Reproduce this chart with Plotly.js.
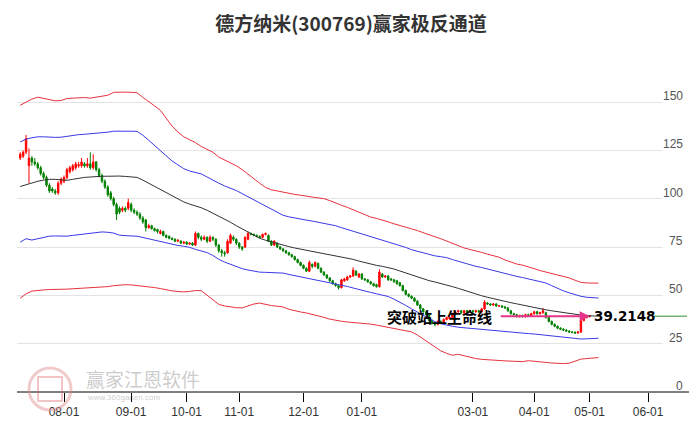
<!DOCTYPE html>
<html>
<head>
<meta charset="utf-8">
<script src="https://cdn.plot.ly/plotly-3.0.1.min.js"></script>
<style>html,body{margin:0;padding:0;background:#fff;}#chart{width:689px;height:427px;}</style>
</head>
<body>
<div id="chart"></div>
<script>
// ---- DATA ----
const titleText = '德方纳米(300769)赢家极反通道';
const tickIdx = [15, 38, 57, 75, 97, 117, 155, 176, 195, 215];
const tickText = ['08-01','09-01','10-01','11-01','12-01','01-01','03-01','04-01','05-01','06-01'];
const yTicks = [0, 25, 50, 75, 100, 125, 150];

const open = [
121,122,124,117,121,119,118,116,113,111,
107,105,104,103,108,109,111,114,115,116,
117,117,118,117,118,116,119,115,112,109,
106,103,100,97,95,94,95,95,97,94,
93,92,90,89,85,86,84.5,84,82,83,
81,80.5,79.5,79,78,78,77,77.5,76.5,77,
76,82,80,79,80,78,80,79,76,73,
72,72,77,80,79,77,75,75,79,82,
81.5,81,80.5,80,81.5,81,78,76,77,75,
74,73,72,71,70,68.5,67,65.5,64,62.5,
66,65,66.5,64,62,60.5,59,57.5,56,55,
54,57.5,58,59.5,60,62.5,59.5,61,58.5,58,
57,56,55.5,54.5,61,59.5,60,58.5,58,57.5,
56.5,55,52.5,50.5,49.5,48.5,47,45,43,41.5,
39.5,37,35.5,35,36.5,36,37.5,38,38.5,40.5,
41.5,42,41,42,41.5,42,41.5,42,41.5,43,
46,45.5,45,45.5,44.5,44.5,44,43.5,42,40.5,
40,39,39.5,39,40,39.5,40.5,41.5,40.5,41,
41,38.5,36.5,35,34,33,32.5,32,31.5,31,
31,30.5,31,37,38.5,39];
const close = [
123,124,131,121,119,118,116,113,111,107,
104,104,103,108,110,111,115,116,117,118,
117.5,119,117,118,116,119,115,112,109,106,
102,100,97,92,93,95,94,98,94,93,
92,90,88,85,86,84.5,83.5,83,83,81,
80,79.5,79,78,78.5,77,77.5,76.5,77,76,
82,80,79,80,78,80,79,76,73,72,
71.5,78,81,79,77,75,74,80,82,81.5,
81,80.5,80,81.5,82,78,76,78,75,74,
73,72,71,70,68.5,67,65.5,64,62.5,67,
65,67,64,62,60.5,59,57.5,56,55,54,
58,58.5,59.5,60,63,60.5,61,58.5,58,57,
56,55,54.5,62,59.5,60,58,58,57,56,
55,52.5,50.5,49.5,48.5,47,45,43,41.5,40,
37,35.5,35,36.5,36,37.5,38.5,38.5,40.5,41.5,
42,41,42,41.5,42,41.5,42,41.5,43,46.5,
45.5,45,45.5,44.5,44.6,44,43.5,42,40.5,40,
39,39.5,39,40,39.5,40.5,41.5,40.5,41,42,
38.5,36.5,35,34,33,32.5,32,31.5,31,30.8,
30.5,31,37,38.5,39.2,39.2148];
const high = [
124,125,133,126,122,121,119,117,114,112,
108,106,105,109,111,112,116,117,118,119,
119,121,119,121,124,123,119.5,116,113,110,
107,104,101,98,96,96,96,100,98,95,
94,93,91,89.5,87,86.5,85,84.5,84,83.5,
81.5,81,80,79.5,79,78.5,78,78,77.5,77.5,
83,82.5,81,81,80.5,81,80.5,79.5,76.5,74,
73,79,82,81,79.5,77.5,75.5,80.5,83,82.5,
82,81.5,81,82,82.5,81.5,78.5,78.5,77.5,75.5,
74.5,73.5,72.5,71.5,70.5,69,67.5,66,64.5,68,
66.5,67.5,67,64.5,62.5,61,59.5,58,56.5,55.5,
58.5,59,60,60.5,64.5,63,61.5,61.5,59,58.5,
57.5,56.5,56,63.5,61.5,60.5,60.5,59,58.5,58,
57,55.5,53,51,50,49,47.5,45.5,43.5,42,
40,37.5,36,37,37,38,39,39,41,42,
42.5,42.5,42.5,42.5,42.5,42.5,42.5,42.5,43.5,47.5,
46.5,46,46,46,45,45,44.5,44,42.5,41,
40.5,40,40,40.5,40.5,41,42,42,41.5,43.5,
41.5,39,37,35.5,34.5,33.5,33,32.5,32,31.5,
31.3,31.5,37.5,39.5,40,39.8];
const low = [
120,121,123,108,117,117,115,112,110,106,
103,103,102,102,107,108,110,113,114,115,
116,116,116,116,115,115,114,111,108,105,
101,99,96,89,92,93,93,94,93,92,
91,89,87,83,84.5,84,83,82,81.5,80.5,
79.5,79,78.5,77.5,77.5,76.5,76.5,76,76,75.5,
75.5,79,78,78.5,77,77.5,78,75,72,70,
70,71.5,76.5,78,76,74,73,74.5,78.5,81,
80.5,80,79.5,79.5,81,77.5,75.5,75.5,74.5,73.5,
72.5,71.5,70.5,69.5,68,66.5,65,63.5,62,62,
64,64.5,63.5,61.5,60,58.5,57,55.5,54.5,53,
53.5,57,57.5,59,59.5,60,59,58,57.5,56.5,
55.5,54.5,54,54,59,59,57.5,57.5,56.5,55.5,
54.5,52,50,49,48,46.5,44.5,42.5,41,39.5,
36.5,35,34,34.5,35.5,35.5,37,37.5,38,40,
41,40.5,40.5,41,41,41,41,41,41,42.5,
45,44.5,44.5,44,44,43.5,43,41.5,40,39.5,
38.5,38.5,38.5,38.5,39,39,40,40,40,40.5,
38,36,34.5,33.5,32.5,32,31.5,31,30.5,30.3,
30,30.2,30.5,36.5,38,38.6];

// channel bands, one value every 2 trading days
const redUpper = [
148.3,149.8,151.5,152.5,151.8,151,150.6,150.8,151.8,152,
152.2,152.3,152,152.4,152.8,153.5,155,155.2,155.1,155,
154.8,152.4,150,148,145.7,141.5,137.5,134.5,132,130.5,
129,127,125.5,124,121.5,120,118.8,117,115,112.5,
110,108,105.8,104.6,104,103.3,102.8,102.2,101.8,101.2,
100.8,100.4,100,99,97.6,96.6,95.5,94.3,93,91.8,
90.5,89.8,89,88,87,86,85.2,84.4,83.5,82.3,
81.2,80.3,79.3,78,76.8,75.5,74.5,73.7,73.1,72.2,
71.3,70.5,69.7,68.3,67.2,66.2,65.6,64.9,63.8,62.8,
62,61.3,60.5,59.8,59,57.8,56.7,56.4,56.3,56.3];
const blueUpper = [
129.3,130.8,131.5,132,132,131.8,131.7,131.8,132.3,132.8,
133.1,133.3,133.5,133.8,134,134.4,134.9,135,135,134.9,
134.8,132.8,130.2,127.5,125,122.2,119.5,117.5,115.5,114.3,
113.6,112.8,111.2,109.5,108,106.6,105.5,104.2,102.6,101,
99.2,97.6,96,94.5,92.8,91.4,90.6,89.9,89.3,88.9,
88.4,87.8,87.2,86.6,86,85,84.1,82.9,82,81.2,
80.3,79.5,78.6,77.6,76.8,76,74.8,73.6,72.8,71.8,
71,70.4,70,69.5,68.5,67.6,66.6,65.7,65,64.4,
63.6,62.9,62.1,61.4,60.7,59.8,59.2,58.5,57.9,57.1,
56.4,55,53.6,52.3,51.3,50.3,49.5,49,48.7,48.6];
const midLine = [
106.3,107.3,108.3,109,109.6,110,110,109.7,109.5,110,
110.6,111,111.2,111.5,111.6,111.6,111.7,111.7,111.5,111.3,
111,109.6,108,106.2,104.5,103,101.5,99.8,98.3,97.2,
96.4,95.3,94,92.5,90.8,89.2,87.8,86,84.3,82.8,
81.2,79.5,78.5,77.6,76.8,76,75.2,74.5,73.9,73.4,
72.8,72.2,71.6,71,70.6,70,69.4,68.6,67.7,66.9,
66.2,65.5,65,64.4,63.6,62.6,61.6,60.5,59.6,58.6,
57.6,56.9,56.2,55.5,54.5,53.6,52.6,51.6,50.7,49.8,
49,48.2,47.5,46.9,46.2,45.6,44.9,44.3,43.6,43,
42.5,42,41.5,41.1,40.6,40.2,39.8,39.5,39.3,39.2];
const blueLower = [
77.5,79.3,78.6,79.3,80.2,80.6,80.7,80.6,80.6,81,
81.4,81.7,82.1,82.5,82.8,82.6,82.2,81.1,80.8,80.7,
80.6,79.9,79,78.4,77.8,77.1,76.4,75.8,75.4,74.8,
73.8,72.9,72.1,70.6,68.6,67.2,66.1,64.8,63.8,63.1,
62.5,62,61.9,61.8,61.7,61.5,60.8,60.2,59.6,59,
58.4,57.8,57.2,56.7,56,55.3,54.6,53.8,52.9,52,
51.5,50.8,50.2,49.4,48,46.5,44.8,43,41.4,39.8,
37.8,36.4,35.3,34.5,34,33.5,33.2,33,32.7,32.4,
32.1,31.8,31.6,31.3,31.1,30.8,30.5,30.2,30,29.7,
29.4,29,28.6,28.2,27.9,27.6,27.4,27.5,27.7,27.8];
const redLower = [
48.5,50.8,52.2,52.6,52.8,53,53,53,53.2,53.4,
53.6,53.7,53.8,53.9,54.1,54.5,55,55.3,55.5,55.4,
55.1,54.8,54.5,54,53.5,52.8,52.3,52,51.8,52,
52.5,52.4,50,47.5,45.3,44.5,44,43.6,43.5,44.5,
45.5,46,45.3,44.7,44.4,44,42.8,41.9,41.4,40.9,
40.2,39.4,38.6,37.7,37,36.6,36.2,35.9,35.8,35.6,
35.1,34.6,34,33.5,32.8,32,31.7,31.1,29.5,27.5,
25.5,23.5,21.3,20,19,19.5,18.7,17.8,17.3,16.9,
16.6,16.4,16.3,16.1,16,15.8,15.7,16.2,16,15.6,
15.3,15,14.8,14.7,14.9,15.8,17,17.3,17.5,17.8];

const signalText = '突破站上生命线';
const lastPrice = 39.2148;
const watermark = '赢家江恩软件';
const watermarkUrl = 'www.360ganen.com';

// ---- BUILD ----
const idx = open.map((_, i) => i);
const bandX = redUpper.map((_, k) => k * 2);
const lastIdx = idx[idx.length - 1];
const YMAX = 180, XMIN = -1.1, XMAX = 220.1;

function band(y, color) {
  return {type: 'scatter', mode: 'lines', x: bandX, y: y, hoverinfo: 'skip',
          line: {color: color, width: 1}, showlegend: false};
}
const traces = [
  band(redUpper, '#e8323c'),
  band(blueUpper, '#3a3ae6'),
  band(midLine, '#333333'),
  band(blueLower, '#3a3ae6'),
  band(redLower, '#e8323c'),
  {type: 'candlestick', x: idx, open: open, high: high, low: low, close: close,
   increasing: {line: {color: '#ff0000', width: 1}, fillcolor: '#ff0000'},
   decreasing: {line: {color: '#008000', width: 1}, fillcolor: '#008000'},
   whiskerwidth: 0, showlegend: false, hoverinfo: 'skip'}
];

const W = 689, H = 427, ML = 17, MR = 26, MT = 44, MB = 35;
const PW = W - ML - MR;
const PH = H - MT - MB;
const pxX = px => (px - ML) / PW;
const pyP = py => (392 - py) / PH;

const annotations = yTicks.map(v => ({
  xref: 'paper', x: pxX(685), xanchor: 'right', yref: 'y', y: v, yanchor: 'middle', yshift: 6,
  text: String(v), showarrow: false, font: {family: 'Liberation Sans, Arial', size: 12, color: '#555'}
}));
annotations.push({
  xref: 'x', x: lastIdx, yref: 'y', y: lastPrice, ax: -92, ay: 0, axref: 'pixel', ayref: 'pixel',
  text: ' ', showarrow: true, arrowhead: 2, arrowsize: 1, arrowwidth: 2, arrowcolor: '#e6348a', standoff: 0
});
annotations.push({
  xref: 'x', x: lastIdx, xanchor: 'right', xshift: -96, yref: 'y', y: lastPrice, yanchor: 'middle',
  text: '<b>' + signalText + '</b>', showarrow: false,
  font: {family: 'Noto Sans CJK SC', size: 15, color: '#000'}
});
annotations.push({
  xref: 'x', x: lastIdx, xanchor: 'left', xshift: 2, yref: 'y', y: lastPrice, yanchor: 'middle',
  text: '<b>' + lastPrice + '</b>', showarrow: false,
  font: {family: 'DejaVu Sans', size: 13.5, color: '#000'}
});
annotations.push({
  xref: 'paper', x: pxX(143), yref: 'paper', y: pyP(378), xanchor: 'center', yanchor: 'middle',
  text: watermark, showarrow: false, borderpad: 0,
  font: {family: 'Noto Sans CJK SC', size: 19, color: 'rgba(140,140,140,0.45)'}
});
annotations.push({
  xref: 'paper', x: pxX(123), yref: 'paper', y: pyP(397.5), xanchor: 'center', yanchor: 'middle',
  text: watermarkUrl, showarrow: false, borderpad: 0,
  font: {family: 'Liberation Sans', size: 8, color: 'rgba(140,140,140,0.45)'}
});

const shapes = [
  {type: 'line', xref: 'paper', yref: 'paper', x0: 0, x1: pxX(689), y0: 0, y1: 0, line: {color: '#000', width: 1}},
  {type: 'line', xref: 'paper', yref: 'paper', x0: pxX(652), x1: pxX(687), y0: lastPrice / YMAX, y1: lastPrice / YMAX,
   line: {color: '#2f8f2f', width: 1}},
  {type: 'circle', xref: 'paper', yref: 'paper', x0: pxX(29), x1: pxX(71), y0: pyP(410), y1: pyP(368),
   line: {color: 'rgba(225,140,140,0.45)', width: 3}},
  {type: 'rect', xref: 'paper', yref: 'paper', x0: pxX(38), x1: pxX(62), y0: pyP(401), y1: pyP(377),
   line: {color: 'rgba(215,90,90,0.35)', width: 2}}
];

const layout = {
  width: W, height: H,
  margin: {l: ML, r: MR, t: MT, b: MB, pad: 0},
  paper_bgcolor: '#fff', plot_bgcolor: '#fff',
  font: {family: 'Liberation Sans, Arial', size: 12, color: '#333'},
  title: {text: '<b>' + titleText + '</b>', xref: 'container', yref: 'container',
          x: 351 / W, xanchor: 'center', y: 1 - 24 / H, yanchor: 'middle',
          font: {family: 'Noto Sans CJK SC', size: 19, color: '#333'}},
  showlegend: false,
  xaxis: {range: [XMIN, XMAX], tickvals: tickIdx, ticktext: tickText, ticks: 'outside', ticklen: 9,
          tickcolor: '#000', tickwidth: 1, showgrid: false, zeroline: false, showline: false,
          rangeslider: {visible: false}, tickfont: {size: 12, color: '#333'}, fixedrange: true},
  yaxis: {range: [0, YMAX], tickvals: yTicks.slice(1), showticklabels: false, ticks: '',
          showgrid: true, gridcolor: '#e3e3e3', gridwidth: 1, zeroline: false, showline: false, fixedrange: true},
  annotations: annotations,
  shapes: shapes
};

Plotly.newPlot('chart', traces, layout, {displayModeBar: false, staticPlot: true});
</script>
</body>
</html>
